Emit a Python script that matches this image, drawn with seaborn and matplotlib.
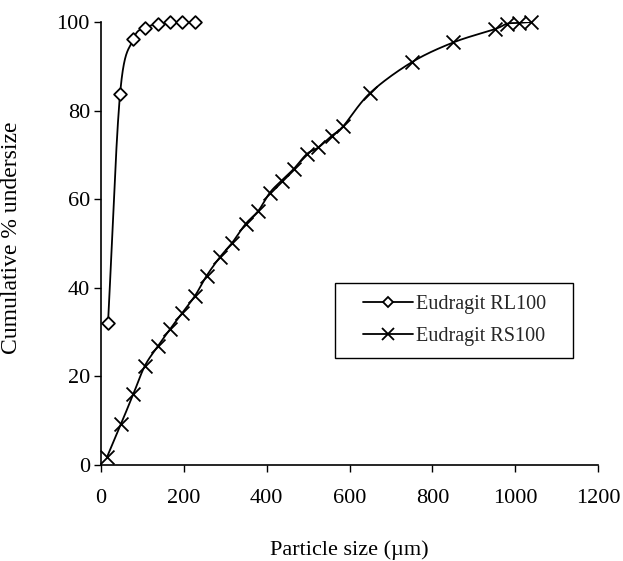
import numpy as np
import pandas as pd
import matplotlib
matplotlib.use("Agg")
import matplotlib.pyplot as plt
from matplotlib.lines import Line2D
from matplotlib.patches import Rectangle
import seaborn as sns

# Cumulative size distributions (sieve size in µm, cumulative % undersize)
rl100_size = [17, 46, 78, 106, 138, 167, 195, 227]
rl100_cum = [32.1, 83.7, 96.1, 98.7, 99.5, 99.9, 100.0, 100.0]

rs100_size = [15, 48, 78, 106, 138, 167, 195, 227, 255, 287, 317, 349, 380, 408,
              436, 466, 497, 525, 557, 585, 650, 750, 851, 951, 980, 1010, 1038]
rs100_cum = [1.9, 9.2, 16.0, 22.4, 26.9, 30.7, 34.2, 38.2, 42.7, 46.9, 50.2, 54.4,
             57.4, 61.5, 64.2, 66.9, 70.2, 71.7, 74.3, 76.5, 84.0, 90.9, 95.4,
             98.4, 99.6, 99.8, 100.0]

x_ticks = [0, 200, 400, 600, 800, 1000, 1200]
y_ticks = [0, 20, 40, 60, 80, 100]


def smooth_curve(x, y, n=24):
    """Catmull-Rom path through the points (spreadsheet-style smoothed line)."""
    x = np.asarray(x, float)
    y = np.asarray(y, float)
    px = np.concatenate([[2 * x[0] - x[1]], x, [2 * x[-1] - x[-2]]])
    py = np.concatenate([[2 * y[0] - y[1]], y, [2 * y[-1] - y[-2]]])
    xs, ys = [], []
    t = np.linspace(0, 1, n, endpoint=False)
    for i in range(1, len(px) - 2):
        p0, p1, p2, p3 = px[i - 1], px[i], px[i + 1], px[i + 2]
        q0, q1, q2, q3 = py[i - 1], py[i], py[i + 1], py[i + 2]
        c1x, c1y = p1 + (p2 - p0) / 6, q1 + (q2 - q0) / 6
        c2x, c2y = p2 - (p3 - p1) / 6, q2 - (q3 - q1) / 6
        b0 = (1 - t) ** 3
        b1 = 3 * (1 - t) ** 2 * t
        b2 = 3 * (1 - t) * t ** 2
        b3 = t ** 3
        xs.append(b0 * p1 + b1 * c1x + b2 * c2x + b3 * p2)
        ys.append(b0 * q1 + b1 * c1y + b2 * c2y + b3 * q2)
    xs.append([x[-1]])
    ys.append([y[-1]])
    return np.concatenate(xs), np.concatenate(ys)


sns.set_theme(style="white")
plt.rcParams["font.family"] = ["Liberation Serif", "DejaVu Serif"]

fig = plt.figure(figsize=(6.23, 5.61), dpi=100)
ax = fig.add_axes([0.1621, 0.1711, 0.7978, 0.7897])

series = [
    ("Eudragit RL100", rl100_size, rl100_cum, "D", 6.5, "white", 4.8),
    ("Eudragit RS100", rs100_size, rs100_cum, "x", 10, "black", 8.5),
]

handles = []
for name, xs, ys, marker, msize, face, leg_size in series:
    cx, cy = smooth_curve(xs, ys)
    curve = pd.DataFrame({"size": cx, "cum": cy})
    sns.lineplot(data=curve, x="size", y="cum", ax=ax, color="black",
                 linewidth=1.3, sort=False, estimator=None, zorder=2)
    pts = pd.DataFrame({"size": xs, "cum": ys})
    sns.scatterplot(data=pts, x="size", y="cum", ax=ax, marker=marker,
                    s=msize ** 2, facecolor=face, edgecolor="black",
                    linewidth=1.3, color="black", zorder=3, clip_on=False,
                    legend=False)
    handles.append(Line2D([0], [0], color="black", linewidth=1.3, marker=marker,
                          markersize=leg_size, markerfacecolor=face,
                          markeredgecolor="black", markeredgewidth=1.3,
                          label=name))

ax.set_xlim(0, 1200)
ax.set_ylim(0, 100)
ax.set_xticks(x_ticks)
ax.set_yticks(y_ticks)
ax.tick_params(axis="both", direction="out", length=5, width=1.0,
               color="black", labelsize=16, labelcolor="black",
               bottom=True, left=True)
ax.tick_params(axis="x", pad=12)
ax.tick_params(axis="y", pad=3)

for side in ("top", "right"):
    ax.spines[side].set_visible(False)
for side in ("left", "bottom"):
    ax.spines[side].set_color("black")
    ax.spines[side].set_linewidth(1.2)
ax.grid(False)

ax.set_xlabel("Particle size (µm)", fontsize=16, color="black")
ax.set_ylabel("Cumulative % undersize", fontsize=17, color="black")
ax.xaxis.set_label_coords(0.5, -0.17)
ax.yaxis.set_label_coords(-0.159, 0.512)

# Legend entries, with a separate plain frame around them
leg = ax.legend(handles=handles, loc="center left",
                bbox_to_anchor=(0.527, 0.327), frameon=False,
                fontsize=14.5, handlelength=2.5, handletextpad=0.15,
                borderpad=0, labelspacing=0.65, borderaxespad=0)
ax.add_patch(Rectangle((0.4708, 0.2415), 0.4789, 0.1693,
                       transform=ax.transAxes, fill=False,
                       edgecolor="black", linewidth=1.0, zorder=4))

fig.savefig("out.png", dpi=100, facecolor="white")
